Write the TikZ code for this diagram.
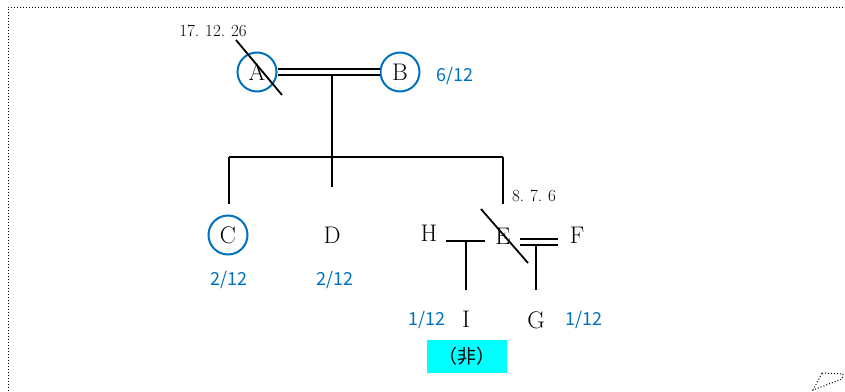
\documentclass[tikz,border=0pt]{standalone}
\usepackage{fontspec}
\newfontfamily\jpsans{Noto Sans CJK JP}
\definecolor{kinblue}{HTML}{0070C0}
\definecolor{tagcyan}{HTML}{00FFFF}
\newcommand{\dt}{.\kern0.35em}
\begin{document}
\begin{tikzpicture}[x=1pt,y=-1pt,
  line/.style={line width=1.6pt},
  person/.style={font=\fontsize{24}{24}\selectfont, inner sep=0pt},
  ringed/.style={person, circle, draw=kinblue, line width=2pt, minimum size=39pt},
  share/.style={font=\jpsans\fontsize{18}{18}\selectfont, text=kinblue, inner sep=0pt},
  datelbl/.style={font=\fontsize{17}{17}\selectfont, inner sep=0pt},
  marriage/.style={double, double distance=4pt, line width=1.6pt},
  deceased/.style={line width=1.8pt}]
\useasboundingbox (0,0) rectangle (845,391);

% dotted frame and corner handle
\draw[dotted, line width=1pt] (8,391) -- (8,7) -- (845,7);
\draw[dotted, line width=1pt] (822,373) -- (843,374) -- (842,379) -- (813,390) -- cycle;

% first generation
\node[ringed] (A) at (257,72) {A};
\node[ringed] (B) at (400,72) {B};
\draw[marriage] (A) -- (B);
\draw[deceased] ([shift={(-21,-32)}]A.center) -- ([shift={(25,23)}]A.center);
\node[datelbl] (dA) at (213,31) {17\dt12\dt26};
\node[share] (sB) at (455,76) {6/12};

% children bar
\coordinate (ABdown) at (332,75);
\coordinate (jC) at (229,157);
\coordinate (jD) at (332,157);
\coordinate (jE) at (503,157);
\draw[line] (ABdown) -- (jD);
\draw[line] (jC) -- (jE);
\draw[line] (jC) -- ++(0,47);
\draw[line] (jD) -- ++(0,30);
\draw[line] (jE) -- ++(0,47);

% second generation
\node[ringed] (C) at (228,235) {C};
\node[person] (D) at (332,235) {D};
\node[person] (H) at (429,233) {H};
\node[person] (E) at (503,236) {E};
\node[person] (F) at (577,235) {F};
\node[datelbl] (dE) at (534,196) {8\dt7\dt6};
\draw[deceased] ([shift={(-22,-27)}]E.center) -- ([shift={(25,27)}]E.center);
\node[share] (sC) at (229,280) {2/12};
\node[share] (sD) at (335,280) {2/12};

% H -- E union and child I
\coordinate (HEl) at (446,241);
\coordinate (HEr) at (485,241);
\coordinate (HEm) at (466,241);
\draw[line] (HEl) -- (HEr);
\draw[line] (HEm) -- ++(0,49);

% E = F marriage and child G
\coordinate (EFl) at (520,242);
\coordinate (EFr) at (558,242);
\coordinate (EFm) at (536,245);
\draw[marriage] (EFl) -- (EFr);
\draw[line] (EFm) -- ++(0,45);

% third generation
\node[person] (I) at (466,319) {I};
\node[person] (G) at (536,320) {G};
\node[share] (sI) at (427,320) {1/12};
\node[share] (sG) at (584,320) {1/12};
\node[fill=tagcyan, minimum width=80pt, minimum height=33pt, inner sep=0pt,
      font=\jpsans\fontsize{19}{19}\selectfont] (tag) at (467,356) {（非）};
\end{tikzpicture}
\end{document}
